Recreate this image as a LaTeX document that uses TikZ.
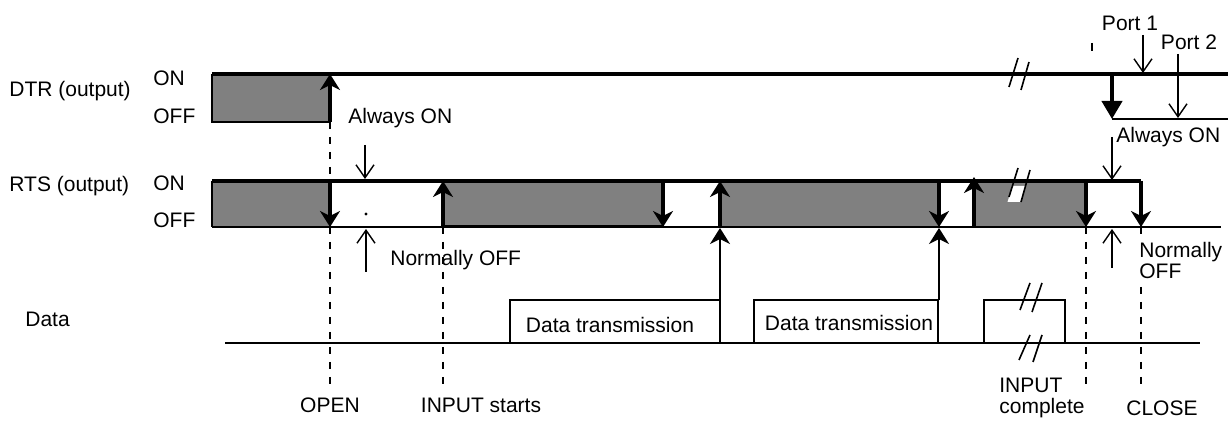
\documentclass[tikz,border=0pt]{standalone}
\usepackage{fontspec}
\setmainfont{Liberation Sans}
\usetikzlibrary{arrows.meta}
\definecolor{sig}{HTML}{808080}
\begin{document}
\begin{tikzpicture}[x=0.5pt,y=-0.5pt,
  lbl/.style={font=\fontsize{10.5}{10.5}\selectfont, inner sep=0pt},
  thickln/.style={line width=1.8pt},
  thinln/.style={line width=0.8pt},
  edge/.style={line width=2pt, -{Stealth[length=8pt,width=10pt,inset=2.5pt]}},
  dataedge/.style={line width=1pt, -{Stealth[length=8pt,width=10pt,inset=2.5pt]}},
  pointer/.style={line width=0.7pt, -{Straight Barb[length=6.5pt,width=9pt]}},
  guide/.style={line width=0.9pt, dash pattern=on 3.5pt off 4pt},
  databox/.style={draw, line width=1.1pt},
  brk/.style={line width=0.8pt}
]
\useasboundingbox (0,0) rectangle (1228,422);

% ---------- DTR ----------
\fill[sig] (212,74) rectangle (330,122);
\draw[thinln] (212,74) -- (212,122) -- (330,122);
\draw[thickln] (212,74) -- (1228,74);
\draw[thinln] (1112,119) -- (1228,119);
\draw[brk] (1009,87) -- (1018,58);
\draw[brk] (1021,90) -- (1029,62);
\draw[line width=0.9pt] (1092,43) -- (1092,51);

% ---------- RTS ----------
\fill[sig] (212,181) rectangle (330,227);
\fill[sig] (443,181) rectangle (663,227);
\fill[sig] (720,181) rectangle (939,227);
\fill[sig] (974,181) rectangle (1086,227);
\draw[thinln] (212,181) -- (212,227);
\draw[thinln] (212,227) -- (1221,227);
\draw[line width=1.5pt] (443,227) -- (663,227);
\draw[thickln] (212,181) -- (1141,181);
% break on RTS
\fill[white] (1012.4,186) -- (1025.5,186) -- (1021,202) -- (1007.5,202) -- cycle;
\draw[brk] (1009,197) -- (1018,168);
\draw[brk] (1021,202) -- (1030,170);
\fill (366,214) circle (0.8pt);

% ---------- dashed guides ----------
\draw[guide] (330,122) -- (330,181);
\draw[guide] (330,227) -- (330,390);
\draw[guide] (443,227) -- (443,390);
\draw[guide] (1086,227) -- (1086,390);
\draw[guide] (1141,227) -- (1141,390);

% ---------- transitions ----------
\draw[edge] (330,122) -- (330,74);
\draw[edge] (330,181) -- (330,227);
\draw[edge] (443,227) -- (443,181);
\draw[edge] (663,181) -- (663,227);
\draw[edge] (720,227) -- (720,181);
\draw[edge] (939,181) -- (939,227);
\draw[edge] (974,227) -- (974,177);
\draw[edge] (1086,181) -- (1086,227);
\draw[edge] (1141,181) -- (1141,227);
\draw[line width=2pt, -{Triangle[length=9pt,width=10pt]}] (1112,74) -- (1112,119);

% ---------- Data ----------
\draw[thinln] (225,343) -- (1200,343);
\draw[databox] (510,343) -- (510,300) -- (720,300) -- (720,343) -- cycle;
\draw[databox] (754,343) -- (754,300) -- (938,300) -- (938,343) -- cycle;
\draw[databox] (984,343) -- (984,300) -- (1065,300) -- (1065,343);
\draw[dataedge] (720,300) -- (720,228);
\draw[dataedge] (939,300) -- (939,228);
\draw[brk] (1020,310) -- (1030,283);
\draw[brk] (1032,312) -- (1042,283);
\draw[brk] (1019,360) -- (1030,335);
\draw[brk] (1033,362) -- (1042,335);

% ---------- pointers ----------
\draw[pointer] (365,145) -- (365,179);
\draw[pointer] (366,272) -- (366,229);
\draw[pointer] (1143,35) -- (1143,73);
\draw[pointer] (1178,54) -- (1178,118);
\draw[pointer] (1112,137) -- (1112,180);
\draw[pointer] (1112,268) -- (1112,229);

% ---------- labels ----------
\node[lbl, anchor=west] (dtr) at (9,91) {DTR (output)};
\node[lbl, anchor=west] (dtron) at (153,78) {ON};
\node[lbl, anchor=west] (dtroff) at (153,116) {OFF};
\node[lbl, anchor=west] (rts) at (9,186) {RTS (output)};
\node[lbl, anchor=west] (rtson) at (153,183) {ON};
\node[lbl, anchor=west] (rtsoff) at (153,220) {OFF};
\node[lbl, anchor=west] (data) at (25,319) {Data};
\node[lbl, anchor=west] (aon1) at (348,118) {Always ON};
\node[lbl, anchor=west] (noff1) at (390,260) {Normally OFF};
\node[lbl, anchor=west] (aon2) at (1116,137) {Always ON};
\node[lbl] (p1) at (1130,23) {Port 1};
\node[lbl] (p2) at (1189,42) {Port 2};
\node[lbl, anchor=west, align=left, fill=white, inner ysep=1pt] (noff2) at (1139,260) {Normally\\OFF};
\node[lbl] (open) at (330,405) {OPEN};
\node[lbl] (instart) at (481,405) {INPUT starts};
\node[lbl, align=left] (incomp) at (1042,398) {INPUT\\complete};
\node[lbl] (close) at (1162,408) {CLOSE};
\node[lbl] (dt1) at (610,325) {Data transmission};
\node[lbl] (dt2) at (849,323) {Data transmission};
\end{tikzpicture}
\end{document}
